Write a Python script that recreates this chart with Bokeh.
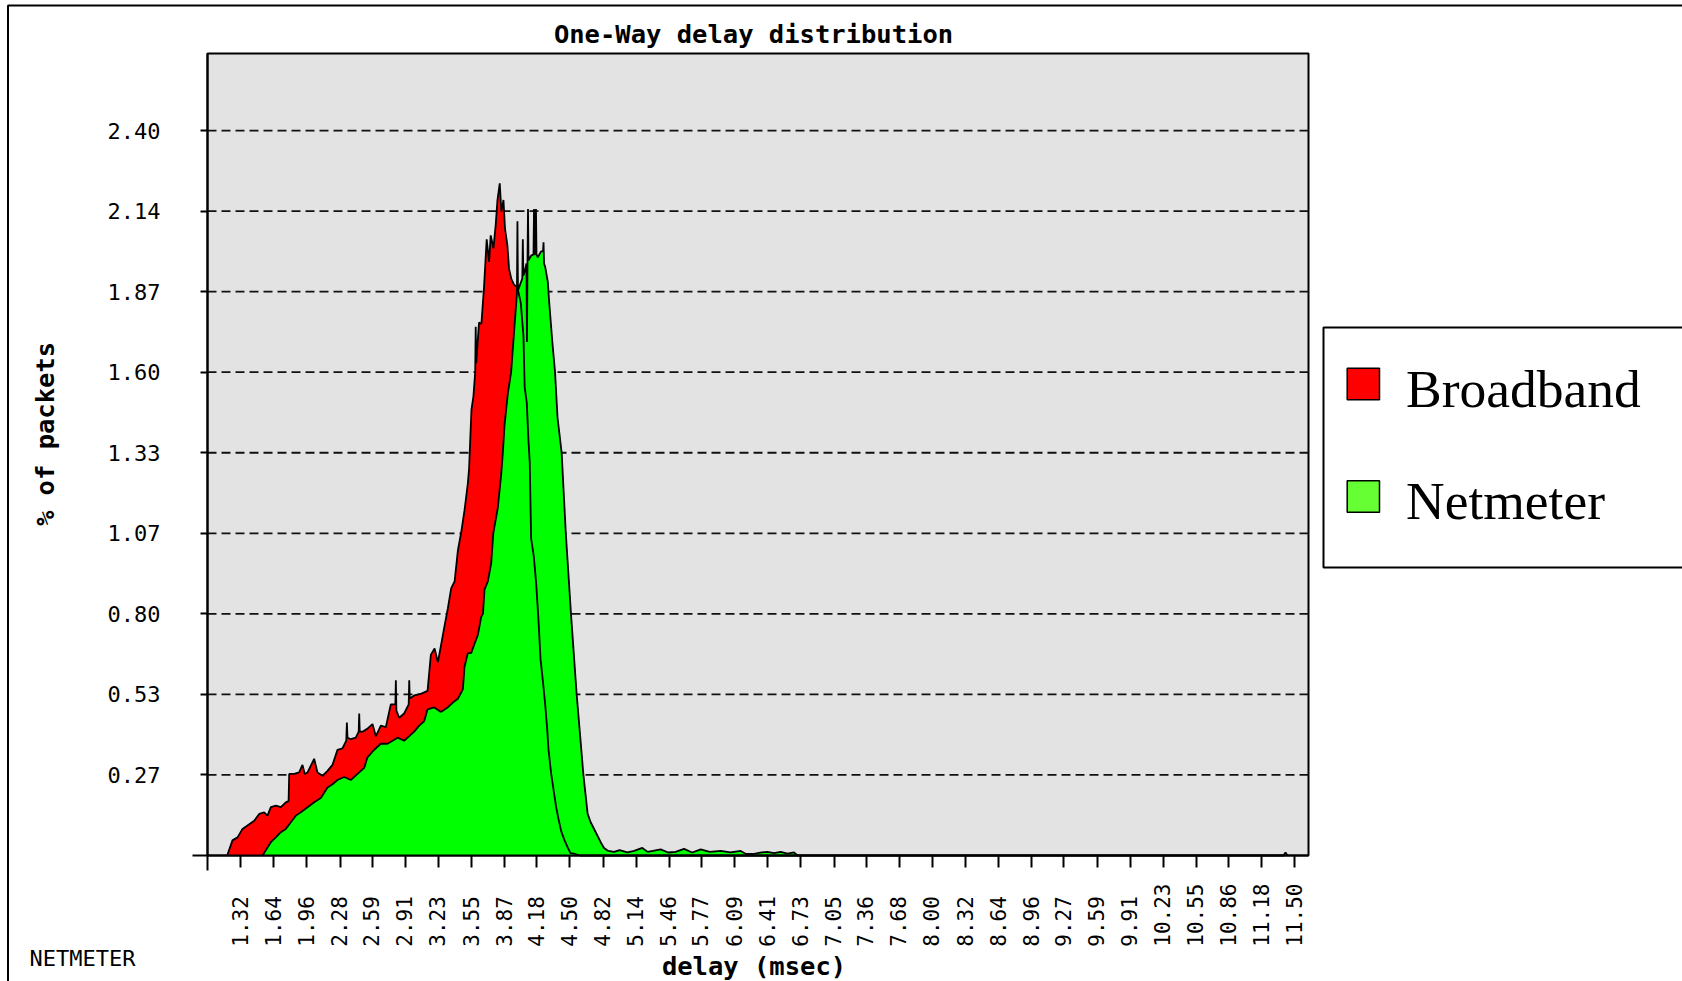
import math
from bokeh.plotting import figure
from bokeh.models import (Range1d, FixedTicker, Label, Legend, LegendItem,
                          ColumnDataSource, BoxAnnotation)
from bokeh.embed import file_html
from bokeh.resources import INLINE

# ---------------- texts ----------------
chart_title = "One-Way delay distribution"
x_axis_label = "delay (msec)"
y_axis_label = "% of packets"
footer_text = "NETMETER"
series_names = ["Broadband", "Netmeter"]
series_fill = ["#FF0000", "#00FF00"]
legend_fill = ["#FF0000", "#66FF33"]

# ---------------- data ----------------
broadband_x = [1.19, 1.241, 1.290, 1.338, 1.386, 1.451, 1.499, 1.547, 1.579, 1.612,
               1.660, 1.708, 1.756, 1.783, 1.789, 1.837, 1.885, 1.917, 1.940, 1.966,
               2.030, 2.062, 2.111, 2.159, 2.207, 2.255, 2.304, 2.340, 2.346, 2.352,
               2.384, 2.432, 2.460, 2.465, 2.470, 2.497, 2.545, 2.593, 2.626, 2.674,
               2.722, 2.770, 2.814, 2.819, 2.824, 2.851, 2.899, 2.943, 2.948, 2.953,
               2.996, 3.060, 3.125, 3.157, 3.193, 3.225, 3.257, 3.289, 3.321, 3.353,
               3.386, 3.418, 3.450, 3.482, 3.514, 3.526, 3.549, 3.568, 3.585, 3.590,
               3.595, 3.622, 3.645, 3.670, 3.696, 3.719, 3.735, 3.761, 3.783, 3.800,
               3.822, 3.838, 3.858, 3.873, 3.896, 3.912, 3.935, 3.960, 3.993, 4.025,
               4.051, 4.063, 4.083, 4.099, 4.112, 4.125, 4.151, 4.174, 4.196, 4.216,
               4.238, 4.261, 4.280, 4.293, 4.319, 4.345, 4.367, 4.390, 4.416, 4.448,
               4.480, 4.506, 4.550, 4.600, 11.39, 11.41, 11.43]
broadband_y = [0.0, 0.05, 0.06, 0.088, 0.099, 0.115, 0.1375, 0.143, 0.132, 0.16,
               0.165, 0.16, 0.176, 0.18, 0.27, 0.27, 0.275, 0.30, 0.27, 0.275,
               0.32, 0.275, 0.264, 0.28, 0.30, 0.35, 0.355, 0.38, 0.44, 0.39,
               0.385, 0.39, 0.41, 0.47, 0.41, 0.41, 0.42, 0.435, 0.395, 0.43,
               0.425, 0.50, 0.50, 0.58, 0.48, 0.456, 0.47, 0.50, 0.58, 0.52,
               0.53, 0.535, 0.545, 0.665, 0.685, 0.64, 0.70, 0.76, 0.818, 0.884,
               0.907, 1.01, 1.07, 1.143, 1.232, 1.28, 1.476, 1.52, 1.60, 1.75,
               1.63, 1.764, 1.76, 1.88, 2.04, 1.965, 2.053, 2.01, 2.087, 2.17,
               2.225, 2.131, 2.17, 2.075, 2.02, 1.942, 1.908, 1.89, 1.88, 1.83,
               1.72, 1.55, 1.50, 1.376, 1.30, 1.05, 0.99, 0.90, 0.78, 0.65,
               0.58, 0.50, 0.42, 0.35, 0.27, 0.21, 0.16, 0.12, 0.08, 0.05,
               0.025, 0.008, 0.005, 0.0, 0.0, 0.01, 0.0]

netmeter_x = [1.531, 1.560, 1.612, 1.660, 1.708, 1.756, 1.805, 1.853, 1.901, 1.966,
              2.030, 2.094, 2.159, 2.207, 2.255, 2.320, 2.384, 2.449, 2.513, 2.545,
              2.610, 2.674, 2.738, 2.787, 2.835, 2.899, 2.948, 2.996, 3.044, 3.093,
              3.125, 3.189, 3.254, 3.318, 3.382, 3.420, 3.466, 3.482, 3.514, 3.546,
              3.578, 3.611, 3.643, 3.660, 3.675, 3.707, 3.739, 3.760, 3.803, 3.836,
              3.852, 3.868, 3.900, 3.932, 3.964, 3.988, 3.993, 3.998, 4.029, 4.040,
              4.045, 4.050, 4.061, 4.080, 4.085, 4.090, 4.095, 4.100, 4.125, 4.148,
              4.153, 4.158, 4.167, 4.172, 4.177, 4.189, 4.221, 4.240, 4.245, 4.250,
              4.260, 4.286, 4.300, 4.330, 4.356, 4.380, 4.420, 4.460, 4.510, 4.565,
              4.630, 4.671, 4.700, 4.749, 4.797, 4.829, 4.870, 4.926, 4.980, 5.054,
              5.120, 5.199, 5.250, 5.300, 5.376, 5.450, 5.520, 5.602, 5.680, 5.763,
              5.850, 5.956, 6.050, 6.149, 6.200, 6.277, 6.350, 6.406, 6.470, 6.535,
              6.600, 6.663, 6.700]
netmeter_y = [0.0, 0.016, 0.044, 0.06, 0.077, 0.088, 0.11, 0.132, 0.143, 0.16,
              0.176, 0.19, 0.225, 0.236, 0.25, 0.26, 0.25, 0.27, 0.29, 0.325,
              0.35, 0.37, 0.37, 0.38, 0.39, 0.38, 0.395, 0.41, 0.43, 0.445,
              0.484, 0.49, 0.475, 0.49, 0.51, 0.52, 0.55, 0.625, 0.67, 0.67,
              0.70, 0.73, 0.79, 0.80, 0.88, 0.907, 0.966, 1.067, 1.15, 1.262,
              1.333, 1.424, 1.528, 1.60, 1.75, 1.86, 2.10, 1.87, 1.90, 1.91,
              2.04, 1.92, 1.93, 1.96, 1.70, 1.96, 2.14, 1.97, 1.986, 1.99,
              2.14, 1.99, 1.99, 2.14, 1.99, 1.98, 2.00, 2.00, 2.03, 1.96,
              1.95, 1.90, 1.83, 1.70, 1.60, 1.45, 1.333, 1.067, 0.80, 0.533,
              0.267, 0.138, 0.11, 0.077, 0.044, 0.025, 0.015, 0.012, 0.018, 0.01,
              0.015, 0.025, 0.012, 0.015, 0.02, 0.01, 0.012, 0.022, 0.01, 0.02,
              0.012, 0.015, 0.01, 0.015, 0.005, 0.005, 0.01, 0.012, 0.008, 0.012,
              0.006, 0.01, 0.0]

x_tick_labels = ["1.32", "1.64", "1.96", "2.28", "2.59", "2.91", "3.23", "3.55",
                 "3.87", "4.18", "4.50", "4.82", "5.14", "5.46", "5.77", "6.09",
                 "6.41", "6.73", "7.05", "7.36", "7.68", "8.00", "8.32", "8.64",
                 "8.96", "9.27", "9.59", "9.91", "10.23", "10.55", "10.86",
                 "11.18", "11.50"]
y_tick_values = [0.26667, 0.53333, 0.8, 1.06667, 1.33333, 1.6, 1.86667, 2.13333, 2.4]
y_tick_labels = ["0.27", "0.53", "0.80", "1.07", "1.33", "1.60", "1.87", "2.14", "2.40"]

x_min, x_max = 1.0, 11.632
y_min, y_max = 0.0, 2.655

# ---------------- layout (canvas pixels) ----------------
W, H = 1682, 981
PLOT_LEFT, PLOT_RIGHT, PLOT_TOP, PLOT_BOTTOM = 207, 1308, 53, 855
kx = (PLOT_RIGHT - PLOT_LEFT) / (x_max - x_min)
ky = (PLOT_BOTTOM - PLOT_TOP) / (y_max - y_min)

MONO = "DejaVu Sans Mono"

p = figure(width=W, height=H, title=None,
           min_border=0, min_border_left=0, min_border_right=0,
           min_border_top=0, min_border_bottom=0,
           x_range=Range1d(x_min - PLOT_LEFT / kx, x_max + (W - PLOT_RIGHT) / kx),
           y_range=Range1d(y_min - (H - PLOT_BOTTOM) / ky, y_max + PLOT_TOP / ky),
           output_backend="svg", toolbar_location=None,
           background_fill_color="white", border_fill_color="white",
           outline_line_color=None)

p.xgrid.visible = False
p.ygrid.visible = False

# plot area background and border
p.quad(left=x_min, right=x_max, bottom=y_min, top=y_max,
       fill_color="#E3E3E3", line_color="black", line_width=2)
# dashed horizontal grid lines at the y ticks
p.segment(x0=x_min, x1=x_max, y0=y_tick_values, y1=y_tick_values,
          line_color="#111111", line_width=1.8, line_dash="9 5")

# ---------------- series ----------------
bb = ColumnDataSource(dict(x=broadband_x, y=broadband_y))
nm = ColumnDataSource(dict(x=netmeter_x, y=netmeter_y))

p.varea(x="x", y1=0, y2="y", source=bb, fill_color=series_fill[0])
p.varea(x="x", y1=0, y2="y", source=nm, fill_color=series_fill[1])
p.line(x="x", y="y", source=bb, line_color="black", line_width=1.8)
p.line(x="x", y="y", source=nm, line_color="black", line_width=1.8)

# ---------------- axes (fixed inside the canvas-wide frame) ----------------
x_tick_values = [float(s) for s in x_tick_labels]
xa = p.xaxis[0]
xa.fixed_location = y_min
xa.bounds = (x_min, x_max)
xa.ticker = FixedTicker(ticks=x_tick_values, minor_ticks=[x_min])
xa.major_label_overrides = {v: (s + "\u00a0" if len(s) == 4 else s)
                            for v, s in zip(x_tick_values, x_tick_labels)}
xa.major_label_orientation = math.pi / 2
xa.major_label_text_font = MONO
xa.major_label_text_font_size = "21px"
xa.major_label_text_color = "black"
xa.major_label_standoff = 13
xa.major_tick_in = 0
xa.major_tick_out = 12
xa.minor_tick_in = 0
xa.minor_tick_out = 15
xa.major_tick_line_width = 2
xa.minor_tick_line_width = 2
xa.major_tick_line_color = "black"
xa.minor_tick_line_color = "black"
xa.axis_line_width = 2
xa.axis_line_color = "black"

ya = p.yaxis[0]
ya.fixed_location = x_min
ya.bounds = (y_min, y_max)
ya.ticker = FixedTicker(ticks=y_tick_values, minor_ticks=[y_min])
ya.major_label_overrides = {v: s for v, s in zip(y_tick_values, y_tick_labels)}
ya.major_label_text_font = MONO
ya.major_label_text_font_size = "22px"
ya.major_label_text_color = "black"
ya.major_label_standoff = 32
ya.major_tick_in = 0
ya.major_tick_out = 7
ya.minor_tick_in = 0
ya.minor_tick_out = 15
ya.major_tick_line_width = 2
ya.minor_tick_line_width = 2
ya.major_tick_line_color = "black"
ya.minor_tick_line_color = "black"
ya.axis_line_width = 2
ya.axis_line_color = "black"

# ---------------- outer frame (top and left edges visible) ----------------
p.add_layout(BoxAnnotation(left=7.5, right=W + 200, top=H - 5, bottom=-200,
                           left_units="screen", right_units="screen",
                           top_units="screen", bottom_units="screen",
                           fill_alpha=0, line_color="black", line_alpha=1.0,
                           line_width=2))

# ---------------- legend ----------------
p.add_layout(BoxAnnotation(left=1323, right=W + 200, top=H - 327, bottom=H - 567,
                           left_units="screen", right_units="screen",
                           top_units="screen", bottom_units="screen",
                           fill_color="white", fill_alpha=1.0,
                           line_color="black", line_alpha=1.0, line_width=2))
# legend colour swatches
for top_px, colour in zip([367.7, 480.2], legend_fill):
    p.add_layout(BoxAnnotation(left=1346.7, right=1379, top=H - top_px,
                               bottom=H - top_px - 31.6,
                               left_units="screen", right_units="screen",
                               top_units="screen", bottom_units="screen",
                               fill_color=colour, fill_alpha=1.0,
                               line_color="black", line_alpha=1.0,
                               line_width=1.5))

r_bb = p.scatter(x=[], y=[], marker="square", fill_color=legend_fill[0],
                 line_color="black", line_width=1.5)
r_nm = p.scatter(x=[], y=[], marker="square", fill_color=legend_fill[1],
                 line_color="black", line_width=1.5)

legend = Legend(items=[LegendItem(label=series_names[0], renderers=[r_bb]),
                       LegendItem(label=series_names[1], renderers=[r_nm])],
                location=(1320, H - 559.5), orientation="vertical",
                glyph_width=80, glyph_height=111, label_standoff=3,
                padding=3, spacing=1, margin=0, label_width=250,
                label_text_font="Liberation Serif", label_text_font_size="53.5px",
                label_text_color="black",
                border_line_alpha=0, background_fill_alpha=0)
p.add_layout(legend)

# ---------------- free texts ----------------
p.add_layout(Label(x=753, y=H - 33.5, x_units="screen", y_units="screen",
                   text=chart_title, text_align="center",
                   text_baseline="alphabetic",
                   text_font=MONO, text_font_style="bold",
                   text_font_size="25.5px", text_color="black"))
p.add_layout(Label(x=44, y=H - 433.5, x_units="screen", y_units="screen",
                   text=y_axis_label, angle=math.pi / 2,
                   text_align="center", text_baseline="alphabetic",
                   text_font=MONO, text_font_style="bold",
                   text_font_size="25.5px", text_color="black"))
p.add_layout(Label(x=753.5, y=H - 965.5, x_units="screen", y_units="screen",
                   text=x_axis_label, text_align="center",
                   text_baseline="alphabetic",
                   text_font=MONO, text_font_style="bold",
                   text_font_size="25.5px", text_color="black"))
p.add_layout(Label(x=29, y=H - 958, x_units="screen", y_units="screen",
                   text=footer_text, text_align="left",
                   text_baseline="alphabetic",
                   text_font=MONO, text_font_size="22px", text_color="black"))

open("out.html", "w").write(file_html(p, INLINE))
